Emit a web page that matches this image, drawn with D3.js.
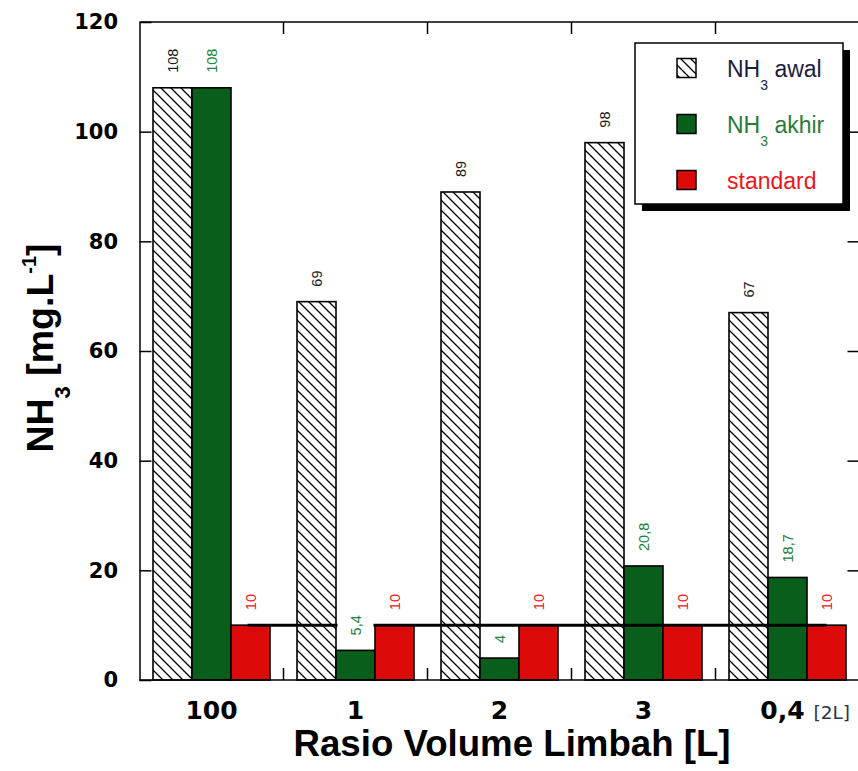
<!DOCTYPE html>
<html><head><meta charset="utf-8">
<script src="https://cdn.jsdelivr.net/npm/d3@7/dist/d3.min.js"></script>
<style>body{margin:0;background:#fff}svg{display:block}</style>
</head><body>
<svg id="chart" width="858" height="771"></svg>
<script>
// ---- data ----
const categories = ["100", "1", "2", "3", "0,4"];
const seriesKeys = ["awal", "akhir", "standard"];
const awalValues = [108, 69, 89, 98, 67];
const akhirValues = [108, 5.4, 4, 20.8, 18.7];
const standardValues = [10, 10, 10, 10, 10];
const awalLabels = ["108", "69", "89", "98", "67"];
const akhirLabels = ["108", "5,4", "4", "20,8", "18,7"];
const standardLabels = ["10", "10", "10", "10", "10"];
const yTickValues = [0, 20, 40, 60, 80, 100, 120];
const standardLineValue = 10;
const legendNames = ["awal", "akhir", "standard"];
const lastCategoryNote = "[2L]";

// ---- styling ----
const colors = { awal: "#ffffff", akhir: "#0a5e1c", standard: "#dd0a0a" };
const labelColors = { awal: "#1a1a1a", akhir: "#23803a", standard: "#ee1520" };
const legendTextColors = { awal: "#1c1c40", akhir: "#2a7a3a", standard: "#ee1520" };

const svg = d3.select("#chart");
const pLeft = 139.5, pRight = 859.5, pTop = 22, pBottom = 680;

const x0 = d3.scaleBand().domain(categories).range([pLeft, pRight])
  .paddingInner(0.1875).paddingOuter(0.09375);
const x1 = d3.scaleBand().domain(seriesKeys).range([0, x0.bandwidth()]);
const y = d3.scaleLinear().domain([0, 120]).range([pBottom, pTop]);

// hatch pattern
const defs = svg.append("defs");
const pat = defs.append("pattern").attr("id", "hatch")
  .attr("patternUnits", "userSpaceOnUse").attr("width", 10).attr("height", 10);
pat.append("rect").attr("width", 10).attr("height", 10).attr("fill", "#fff");
pat.append("path").attr("d", "M-5,5 L5,15 M0,0 L10,10 M5,-5 L15,5")
  .attr("stroke", "#000").attr("stroke-width", 1.3);

const rows = categories.map((c, i) => ({
  cat: c,
  vals: [
    { key: "awal", v: awalValues[i], lab: awalLabels[i] },
    { key: "akhir", v: akhirValues[i], lab: akhirLabels[i] },
    { key: "standard", v: standardValues[i], lab: standardLabels[i] }
  ]
}));

const fillFor = k => k === "awal" ? "url(#hatch)" : colors[k];

// bars
const groups = svg.append("g").selectAll("g").data(rows).join("g")
  .attr("transform", d => `translate(${x0(d.cat)},0)`);
groups.selectAll("rect").data(d => d.vals).join("rect")
  .attr("x", d => x1(d.key))
  .attr("y", d => y(d.v))
  .attr("width", x1.bandwidth())
  .attr("height", d => y(0) - y(d.v))
  .attr("fill", d => fillFor(d.key))
  .attr("stroke", "#000").attr("stroke-width", 1.6);

// standard reference line
const lineX1 = x0(categories[0]) + x1("standard") + x1.bandwidth() / 2 - 3;
const lineX2 = x0(categories[categories.length - 1]) + x1("standard") + x1.bandwidth() / 2;
svg.append("line")
  .attr("x1", lineX1).attr("x2", lineX2)
  .attr("y1", y(standardLineValue)).attr("y2", y(standardLineValue))
  .attr("stroke", "#000").attr("stroke-width", 3);

// value labels (rotated)
const labLayer = svg.append("g");
const labGroups = labLayer.selectAll("g.grp").data(rows).join("g").attr("class", "grp")
  .attr("transform", d => `translate(${x0(d.cat)},0)`);
const labG = labGroups.selectAll("g.lab").data(d => d.vals).join("g").attr("class", "lab")
  .attr("transform", d => `translate(${x1(d.key) + x1.bandwidth() / 2},${y(d.v) - 15}) rotate(-90)`);
labG.append("text")
  .attr("x", 0).attr("y", 0).attr("dy", "0.35em")
  .attr("font-family", "Liberation Sans, Arial, sans-serif")
  .attr("font-size", 14.5)
  .attr("fill", d => labelColors[d.key])
  .text(d => d.lab)
  .each(function () {
    const bb = this.getBBox();
    d3.select(this.parentNode).insert("rect", "text")
      .attr("x", -2).attr("y", -(x1.bandwidth() - 3) / 2)
      .attr("width", bb.width + 4).attr("height", x1.bandwidth() - 3)
      .attr("fill", "#fff");
  });

// frame
svg.append("line").attr("x1", pLeft).attr("x2", pRight).attr("y1", pTop).attr("y2", pTop)
  .attr("stroke", "#000").attr("stroke-width", 1.5);
svg.append("line").attr("x1", pLeft).attr("x2", pRight).attr("y1", pBottom).attr("y2", pBottom)
  .attr("stroke", "#000").attr("stroke-width", 1.5);

// left axis
const yAxis = svg.append("g").attr("transform", `translate(${pLeft},0)`)
  .call(d3.axisLeft(y).tickValues(yTickValues).tickSizeInner(-12).tickSizeOuter(0).tickPadding(21.5));
yAxis.select(".domain").attr("stroke-width", 1.5);
yAxis.selectAll(".tick line").attr("stroke-width", 1.5);
yAxis.selectAll(".tick text")
  .attr("font-family", "DejaVu Sans, sans-serif").attr("font-weight", "bold")
  .attr("font-size", 21).attr("fill", "#000");

// right axis (ticks only)
const rAxis = svg.append("g").attr("transform", `translate(${pRight},0)`)
  .call(d3.axisRight(y).tickValues(yTickValues.slice(1, -1)).tickSizeInner(-12).tickSizeOuter(0).tickFormat(""));
rAxis.selectAll("line,path").attr("stroke-width", 1.5);

// category boundary ticks (top and bottom)
const boundaries = categories.slice(1).map(c => x0(c) - x0.step() * x0.paddingInner() / 2);
svg.append("g").selectAll("line").data(boundaries).join("line")
  .attr("x1", d => d).attr("x2", d => d).attr("y1", pBottom).attr("y2", pBottom - 12)
  .attr("stroke", "#000").attr("stroke-width", 1.5);
svg.append("g").selectAll("line").data(boundaries).join("line")
  .attr("x1", d => d).attr("x2", d => d).attr("y1", pTop).attr("y2", pTop + 12)
  .attr("stroke", "#000").attr("stroke-width", 1.5);

// bottom axis labels
const xAxis = svg.append("g").attr("transform", `translate(0,${pBottom})`)
  .call(d3.axisBottom(x0).tickSize(0).tickPadding(0));
xAxis.select(".domain").remove();
xAxis.selectAll(".tick text")
  .attr("y", 39).attr("dy", 0)
  .attr("font-family", "DejaVu Sans, sans-serif").attr("font-weight", "bold")
  .attr("font-size", 25).attr("fill", "#000")
  .attr("dx", (d, i) => i === categories.length - 1 ? -5 : 0);
const lastCat = categories[categories.length - 1];
svg.append("text")
  .attr("x", x0(lastCat) + x0.bandwidth() / 2 + 26).attr("y", 719)
  .attr("font-family", "DejaVu Sans, sans-serif").attr("font-size", 18.5)
  .attr("fill", "#2a3550").text(lastCategoryNote);

// axis titles
svg.append("text")
  .attr("x", 512).attr("y", 756).attr("text-anchor", "middle")
  .attr("font-family", "Liberation Sans, Arial, sans-serif").attr("font-weight", "bold")
  .attr("font-size", 37).attr("fill", "#000")
  .attr("textLength", 437).attr("lengthAdjust", "spacingAndGlyphs")
  .text("Rasio Volume Limbah [L]");

const yt = svg.append("text")
  .attr("transform", "translate(53,348) rotate(-90)")
  .attr("text-anchor", "middle")
  .attr("font-family", "Liberation Sans, Arial, sans-serif").attr("font-weight", "bold")
  .attr("font-size", 37.5).attr("fill", "#000");
yt.append("tspan").text("NH");
yt.append("tspan").attr("dy", 17).attr("font-size", 22).text("3");
yt.append("tspan").attr("dy", -17).text(" [mg.L");
yt.append("tspan").attr("dy", -17).attr("font-size", 20).text("-1");
yt.append("tspan").attr("dy", 17).text("]");

// legend
const lg = svg.append("g");
lg.append("rect").attr("x", 642).attr("y", 50).attr("width", 208).attr("height", 161).attr("fill", "#000");
lg.append("rect").attr("x", 635).attr("y", 43).attr("width", 208).attr("height", 161)
  .attr("fill", "#fff").attr("stroke", "#000").attr("stroke-width", 1.5);
const legendY = d3.scalePoint().domain(legendNames).range([68, 180]);
const li = lg.selectAll("g.li").data(legendNames).join("g").attr("class", "li")
  .attr("transform", d => `translate(0,${legendY(d)})`);
li.append("rect").attr("x", 677).attr("y", -9.5).attr("width", 19).attr("height", 19)
  .attr("fill", d => fillFor(d)).attr("stroke", "#000").attr("stroke-width", 1.5);
const lt = li.append("text").attr("x", 727).attr("y", 9)
  .attr("font-family", "Liberation Sans, Arial, sans-serif").attr("font-size", 23)
  .attr("fill", d => legendTextColors[d]);
lt.each(function (d) {
  const t = d3.select(this);
  if (d === "standard") { t.text("standard"); return; }
  t.append("tspan").text("NH");
  t.append("tspan").attr("dy", 13).attr("font-size", 14).text("3");
  t.append("tspan").attr("dy", -13).text(d === "awal" ? " awal" : " akhir");
});
</script>
</body></html>
